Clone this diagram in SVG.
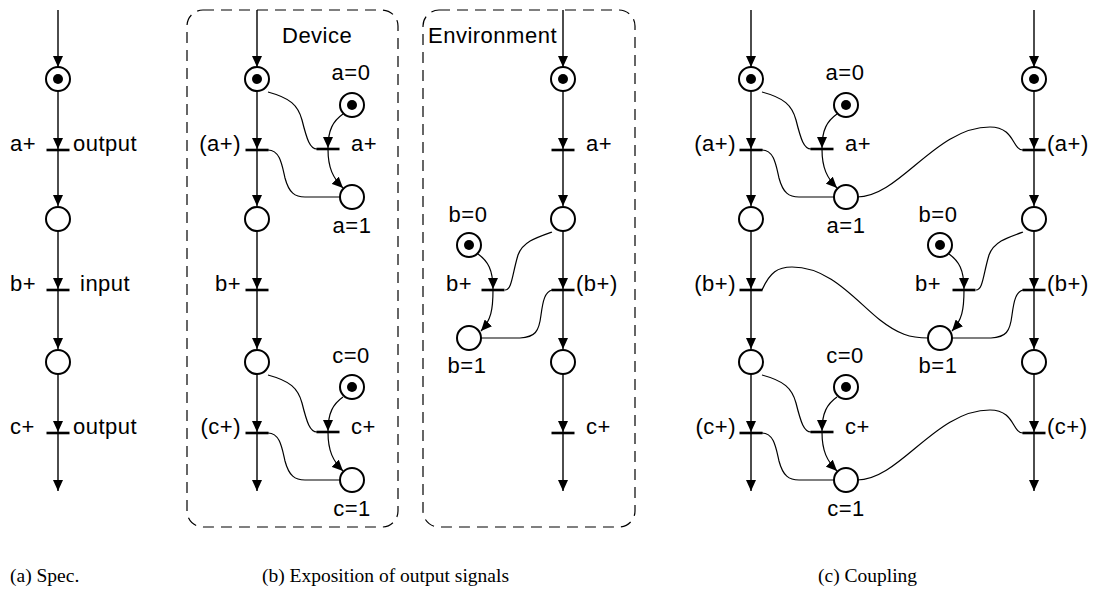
<svg xmlns="http://www.w3.org/2000/svg" width="1100" height="599" viewBox="0 0 1100 599">
<style>
.ln{stroke:#000;stroke-width:1.4;fill:none}
.cv{stroke:#000;stroke-width:1.2;fill:none}
.pl{fill:#fff;stroke:#000;stroke-width:2}
.tk{fill:#000}
.br{stroke:#000;stroke-width:2.6}
.bx{fill:none;stroke:#000;stroke-width:1.2;stroke-dasharray:11 7}
.t{font-family:"Liberation Sans",Arial,sans-serif;font-size:22px;letter-spacing:0.5px;fill:#000}
.m{text-anchor:middle}
.e{text-anchor:end}
.cap{font-family:"Liberation Serif","Times New Roman",serif;font-size:19.5px;fill:#000}
</style>
<defs>
<marker id="ah" markerUnits="userSpaceOnUse" markerWidth="11" markerHeight="10" refX="11" refY="5" orient="auto">
<path d="M0,0 L11,5 L0,10 z" fill="#000"/>
</marker>
</defs>
<rect width="1100" height="599" fill="#fff"/>
<g id="boxes">
<rect class="bx" x="187" y="10" width="211" height="517" rx="16"/>
<rect class="bx" x="423" y="10" width="212" height="517" rx="16"/>
</g>
<g id="connectors">
<!-- panel a -->
<path class="ln" d="M58,10V67" marker-end="url(#ah)"/>
<path class="ln" d="M58,91V149" marker-end="url(#ah)"/>
<path class="ln" d="M58,150V206" marker-end="url(#ah)"/>
<path class="ln" d="M58,231V289" marker-end="url(#ah)"/>
<path class="ln" d="M58,290V349" marker-end="url(#ah)"/>
<path class="ln" d="M58,374V432" marker-end="url(#ah)"/>
<path class="ln" d="M58,433V491" marker-end="url(#ah)"/>
<!-- device -->
<path class="ln" d="M257,10V67" marker-end="url(#ah)"/>
<path class="ln" d="M257,91V149" marker-end="url(#ah)"/>
<path class="ln" d="M257,150V206" marker-end="url(#ah)"/>
<path class="ln" d="M257,231V289" marker-end="url(#ah)"/>
<path class="ln" d="M257,290V349" marker-end="url(#ah)"/>
<path class="ln" d="M257,374V432" marker-end="url(#ah)"/>
<path class="ln" d="M257,433V491" marker-end="url(#ah)"/>
<path class="cv" d="M268,92 C290,98 298,105 302,120 C307,140 310,149 317,149"/>
<path class="cv" d="M343,114 C333,121 328,130 328,148" marker-end="url(#ah)"/>
<path class="cv" d="M328,149 C328,168 333,178 343,188" marker-end="url(#ah)"/>
<path class="cv" d="M268,150 C280,150 282,165 285,178 C289,193 295,197 305,197 L340,197"/>
<path class="cv" d="M268,375 C290,381 298,388 302,403 C307,423 310,432 317,432"/>
<path class="cv" d="M343,397 C333,404 328,413 328,431" marker-end="url(#ah)"/>
<path class="cv" d="M328,432 C328,451 333,461 343,471" marker-end="url(#ah)"/>
<path class="cv" d="M268,433 C280,433 282,448 285,461 C289,476 295,480 305,480 L340,480"/>
<!-- environment -->
<path class="ln" d="M563,10V67" marker-end="url(#ah)"/>
<path class="ln" d="M563,91V149" marker-end="url(#ah)"/>
<path class="ln" d="M563,150V206" marker-end="url(#ah)"/>
<path class="ln" d="M563,231V289" marker-end="url(#ah)"/>
<path class="ln" d="M563,290V349" marker-end="url(#ah)"/>
<path class="ln" d="M563,374V432" marker-end="url(#ah)"/>
<path class="ln" d="M563,433V491" marker-end="url(#ah)"/>
<path class="cv" d="M552,232 C535,238 523,242 518,255 C512,275 512,290 505,290"/>
<path class="cv" d="M478,254 C488,261 493,270 493,289" marker-end="url(#ah)"/>
<path class="cv" d="M493,290 C493,310 491,320 481,331" marker-end="url(#ah)"/>
<path class="cv" d="M552,290 C545,292 543,300 541,315 C539,332 535,337 520,338 L481,338"/>
<!-- coupling left -->
<path class="ln" d="M751,10V67" marker-end="url(#ah)"/>
<path class="ln" d="M751,91V149" marker-end="url(#ah)"/>
<path class="ln" d="M751,150V206" marker-end="url(#ah)"/>
<path class="ln" d="M751,231V289" marker-end="url(#ah)"/>
<path class="ln" d="M751,290V349" marker-end="url(#ah)"/>
<path class="ln" d="M751,374V432" marker-end="url(#ah)"/>
<path class="ln" d="M751,433V491" marker-end="url(#ah)"/>
<path class="cv" d="M762,92 C784,98 792,105 796,120 C801,140 804,149 811,149"/>
<path class="cv" d="M837,114 C827,121 822,130 822,148" marker-end="url(#ah)"/>
<path class="cv" d="M822,149 C822,168 827,178 837,188" marker-end="url(#ah)"/>
<path class="cv" d="M762,150 C774,150 776,165 779,178 C783,193 789,197 799,197 L834,197"/>
<path class="cv" d="M762,375 C784,381 792,388 796,403 C801,423 804,432 811,432"/>
<path class="cv" d="M837,397 C827,404 822,413 822,431" marker-end="url(#ah)"/>
<path class="cv" d="M822,432 C822,451 827,461 837,471" marker-end="url(#ah)"/>
<path class="cv" d="M762,433 C774,433 776,448 779,461 C783,476 789,480 799,480 L834,480"/>
<!-- coupling right -->
<path class="ln" d="M1034,10V67" marker-end="url(#ah)"/>
<path class="ln" d="M1034,91V149" marker-end="url(#ah)"/>
<path class="ln" d="M1034,150V206" marker-end="url(#ah)"/>
<path class="ln" d="M1034,231V289" marker-end="url(#ah)"/>
<path class="ln" d="M1034,290V349" marker-end="url(#ah)"/>
<path class="ln" d="M1034,374V432" marker-end="url(#ah)"/>
<path class="ln" d="M1034,433V491" marker-end="url(#ah)"/>
<path class="cv" d="M1023,232 C1006,238 994,242 989,255 C983,275 983,290 976,290"/>
<path class="cv" d="M949,254 C959,261 964,270 964,289" marker-end="url(#ah)"/>
<path class="cv" d="M964,290 C964,310 962,320 952,331" marker-end="url(#ah)"/>
<path class="cv" d="M1023,290 C1016,292 1014,300 1012,315 C1010,332 1006,337 991,338 L952,338"/>
<!-- coupling arcs -->
<path class="cv" d="M857,197 C900,197 935,127 990,127 C1015,127 1012,150 1023,150"/>
<path class="cv" d="M762,290 C770,272 778,267 792,267 C830,267 855,300 880,320 C898,334 910,338 928,338"/>
<path class="cv" d="M857,480 C900,480 935,410 990,410 C1015,410 1012,433 1023,433"/>
</g>
<g id="spec">
<g id="a_p0"><circle class="pl" cx="58" cy="79" r="12"/><circle class="tk" cx="58" cy="79" r="5"/></g>
<g id="a_ta"><line class="br" x1="46.5" y1="150" x2="69.5" y2="150"/><text class="t" x="10" y="151">a+</text><text class="t" x="73" y="151">output</text></g>
<g id="a_p1"><circle class="pl" cx="58" cy="219" r="12"/></g>
<g id="a_tb"><line class="br" x1="46.5" y1="290" x2="69.5" y2="290"/><text class="t" x="10" y="291">b+</text><text class="t" x="80" y="291">input</text></g>
<g id="a_p2"><circle class="pl" cx="58" cy="362" r="12"/></g>
<g id="a_tc"><line class="br" x1="46.5" y1="433" x2="69.5" y2="433"/><text class="t" x="10" y="434">c+</text><text class="t" x="73" y="434">output</text></g>
</g>
<g id="device">
<text class="t" x="282" y="43">Device</text>
<g id="d_p0"><circle class="pl" cx="257" cy="79" r="12"/><circle class="tk" cx="257" cy="79" r="5"/></g>
<g id="d_ta"><line class="br" x1="245.5" y1="150" x2="268.5" y2="150"/><text class="t e" x="241" y="151">(a+)</text></g>
<g id="d_p1"><circle class="pl" cx="257" cy="219" r="12"/></g>
<g id="d_tb"><line class="br" x1="245.5" y1="290" x2="268.5" y2="290"/><text class="t e" x="241" y="291">b+</text></g>
<g id="d_p2"><circle class="pl" cx="257" cy="362" r="12"/></g>
<g id="d_tc"><line class="br" x1="245.5" y1="433" x2="268.5" y2="433"/><text class="t e" x="241" y="434">(c+)</text></g>
<g id="d_a0"><circle class="pl" cx="352" cy="105" r="12"/><circle class="tk" cx="352" cy="105" r="5"/><text class="t m" x="351" y="80">a=0</text></g>
<g id="d_sa"><line class="br" x1="316.5" y1="149" x2="339.5" y2="149"/><text class="t" x="351" y="151">a+</text></g>
<g id="d_a1"><circle class="pl" cx="352" cy="197" r="12"/><text class="t m" x="352" y="233">a=1</text></g>
<g id="d_c0"><circle class="pl" cx="352" cy="387" r="12"/><circle class="tk" cx="352" cy="387" r="5"/><text class="t m" x="351" y="363">c=0</text></g>
<g id="d_sc"><line class="br" x1="316.5" y1="432" x2="339.5" y2="432"/><text class="t" x="351" y="434">c+</text></g>
<g id="d_c1"><circle class="pl" cx="352" cy="480" r="12"/><text class="t m" x="352" y="516">c=1</text></g>
</g>
<g id="environment">
<text class="t" x="428" y="43">Environment</text>
<g id="e_p0"><circle class="pl" cx="563" cy="79" r="12"/><circle class="tk" cx="563" cy="79" r="5"/></g>
<g id="e_ta"><line class="br" x1="551.5" y1="150" x2="574.5" y2="150"/><text class="t" x="586" y="151">a+</text></g>
<g id="e_p1"><circle class="pl" cx="563" cy="219" r="12"/></g>
<g id="e_tb"><line class="br" x1="551.5" y1="290" x2="574.5" y2="290"/><text class="t" x="576" y="291">(b+)</text></g>
<g id="e_p2"><circle class="pl" cx="563" cy="362" r="12"/></g>
<g id="e_tc"><line class="br" x1="551.5" y1="433" x2="574.5" y2="433"/><text class="t" x="586" y="434">c+</text></g>
<g id="e_b0"><circle class="pl" cx="469" cy="245" r="12"/><circle class="tk" cx="469" cy="245" r="5"/><text class="t m" x="468" y="222">b=0</text></g>
<g id="e_sb"><line class="br" x1="481.5" y1="290" x2="504.5" y2="290"/><text class="t e" x="472" y="291">b+</text></g>
<g id="e_b1"><circle class="pl" cx="469" cy="338" r="12"/><text class="t m" x="467" y="373">b=1</text></g>
</g>
<g id="coupling">
<g id="c_p0"><circle class="pl" cx="751" cy="79" r="12"/><circle class="tk" cx="751" cy="79" r="5"/></g>
<g id="c_ta"><line class="br" x1="739.5" y1="150" x2="762.5" y2="150"/><text class="t e" x="736" y="151">(a+)</text></g>
<g id="c_p1"><circle class="pl" cx="751" cy="219" r="12"/></g>
<g id="c_tb"><line class="br" x1="739.5" y1="290" x2="762.5" y2="290"/><text class="t e" x="736" y="291">(b+)</text></g>
<g id="c_p2"><circle class="pl" cx="751" cy="362" r="12"/></g>
<g id="c_tc"><line class="br" x1="739.5" y1="433" x2="762.5" y2="433"/><text class="t e" x="736" y="434">(c+)</text></g>
<g id="c_a0"><circle class="pl" cx="846" cy="105" r="12"/><circle class="tk" cx="846" cy="105" r="5"/><text class="t m" x="845" y="80">a=0</text></g>
<g id="c_sa"><line class="br" x1="810.5" y1="149" x2="833.5" y2="149"/><text class="t" x="845" y="151">a+</text></g>
<g id="c_a1"><circle class="pl" cx="846" cy="197" r="12"/><text class="t m" x="846" y="233">a=1</text></g>
<g id="c_c0"><circle class="pl" cx="846" cy="387" r="12"/><circle class="tk" cx="846" cy="387" r="5"/><text class="t m" x="845" y="363">c=0</text></g>
<g id="c_sc"><line class="br" x1="810.5" y1="432" x2="833.5" y2="432"/><text class="t" x="845" y="434">c+</text></g>
<g id="c_c1"><circle class="pl" cx="846" cy="480" r="12"/><text class="t m" x="846" y="516">c=1</text></g>
<g id="r_p0"><circle class="pl" cx="1034" cy="79" r="12"/><circle class="tk" cx="1034" cy="79" r="5"/></g>
<g id="r_ta"><line class="br" x1="1022.5" y1="150" x2="1045.5" y2="150"/><text class="t" x="1047" y="151">(a+)</text></g>
<g id="r_p1"><circle class="pl" cx="1034" cy="219" r="12"/></g>
<g id="r_tb"><line class="br" x1="1022.5" y1="290" x2="1045.5" y2="290"/><text class="t" x="1047" y="291">(b+)</text></g>
<g id="r_p2"><circle class="pl" cx="1034" cy="362" r="12"/></g>
<g id="r_tc"><line class="br" x1="1022.5" y1="433" x2="1045.5" y2="433"/><text class="t" x="1047" y="434">(c+)</text></g>
<g id="r_b0"><circle class="pl" cx="940" cy="245" r="12"/><circle class="tk" cx="940" cy="245" r="5"/><text class="t m" x="938" y="222">b=0</text></g>
<g id="r_sb"><line class="br" x1="952.5" y1="290" x2="975.5" y2="290"/><text class="t e" x="941" y="291">b+</text></g>
<g id="r_b1"><circle class="pl" cx="940" cy="338" r="12"/><text class="t m" x="938" y="373">b=1</text></g>
</g>
<g id="captions">
<text class="cap" x="10" y="582">(a) Spec.</text>
<text class="cap" x="262" y="582">(b) Exposition of output signals</text>
<text class="cap" x="818" y="582">(c) Coupling</text>
</g>
</svg>
